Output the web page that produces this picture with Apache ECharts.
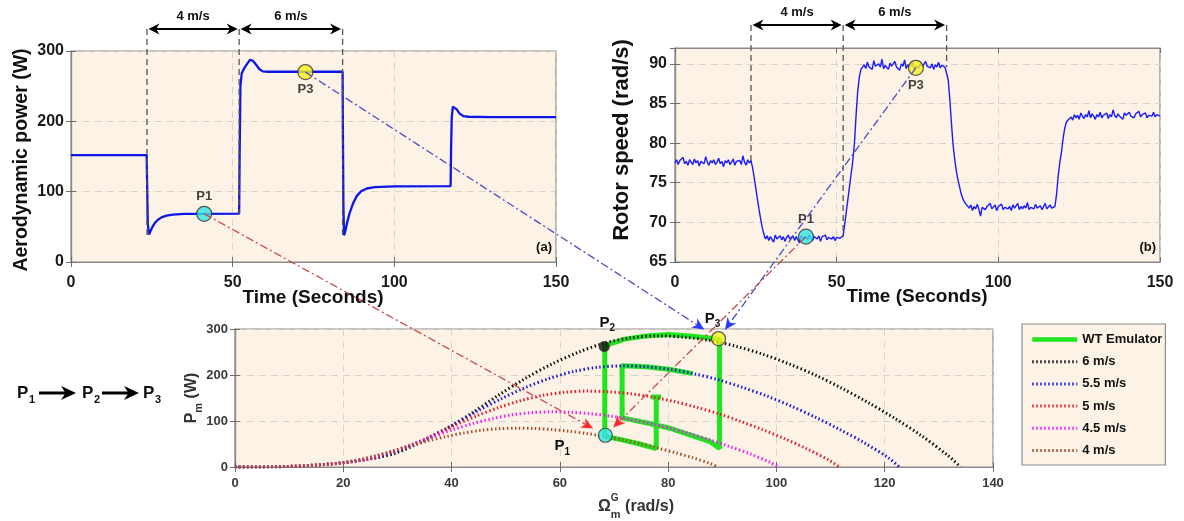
<!DOCTYPE html>
<html>
<head>
<meta charset="utf-8">
<script src="https://cdn.jsdelivr.net/npm/echarts@6/dist/echarts.min.js"></script>
<style>
html,body{margin:0;padding:0;background:#fff;}
#chart{width:1184px;height:521px;}
</style>
</head>
<body>
<div id="chart"></div>
<script>
// (a) aerodynamic power trace, breakpoints
const powerTime = [0, 23.4, 23.55, 23.75, 24.1, 24.6, 25.2, 26, 27, 28, 29.5, 31.5, 35, 40, 52, 52.15, 52.4, 52.8, 53.5, 54.5,
  55.4, 56.3, 57.3, 58.3, 59.3, 61, 84, 84.1, 84.25, 84.45, 84.8, 85.4, 86.2, 87.2, 88.4, 89.8, 91.5, 94, 100, 117.4,
  117.55, 117.75, 118.1, 118.6, 119.3, 120.2, 121.3, 123, 130, 150];
const powerValue = [152, 152, 110, 55, 39, 44, 50, 56, 60.5, 63.5, 66, 67.5, 68.3, 68.5, 68.8, 150, 250, 268, 275, 282,
  287.5, 286, 280, 274, 271, 270.5, 270.5, 180, 80, 38, 43, 56, 70, 83, 94, 101, 104.5, 106.5, 107.5, 107.8,
  160, 205, 221, 222, 217, 211, 207.5, 206.5, 206, 206];

// (b) rotor speed, one value every 0.5 s from 0 to 150 s
const rotorStep = 0.5;
const rotorSpeed = [
  77.5,77.9,77.3,77.8,77.6,78.2,77.4,77.7,77.2,77.9,77.6,77.3,78.0,77.5,77.8,77.1,77.7,77.9,77.4,78.3,
  77.6,77.2,77.8,77.5,77.9,77.3,77.6,78.1,77.4,77.7,77.0,77.8,77.5,77.9,77.3,77.6,78.0,77.2,77.7,77.5,
  77.8,77.3,78.4,77.6,77.2,77.9,77.5,77.8,
  76.9,75.6,74.3,72.9,71.6,70.4,69.3,68.5,
  67.9,68.3,67.7,68.2,68.0,67.5,68.4,67.9,68.1,68.3,67.8,68.2,67.6,68.1,68.4,67.9,68.0,68.3,67.7,68.2,
  68.0,67.4,68.3,68.1,67.9,68.2,67.8,68.4,68.0,67.7,68.2,68.1,67.9,68.3,67.6,68.2,68.0,68.4,67.8,68.1,
  68.3,67.9,68.2,67.7,68.1,68.3,68.0,68.2,
  68.3,69.8,71.4,73.0,74.6,76.2,77.8,80.0,83.5,86.5,88.3,89.3,89.6,
  89.9,89.4,90.2,89.6,89.8,89.3,90.4,89.7,89.5,90.0,89.6,90.6,89.4,89.8,89.9,89.3,90.1,89.7,89.5,90.3,
  89.6,89.8,89.2,90.0,89.7,90.5,89.4,89.9,89.6,89.8,90.2,89.3,89.7,89.9,89.5,90.1,89.6,89.4,90.3,89.7,
  89.8,89.5,90.0,89.3,89.9,89.6,90.2,89.5,89.8,89.7,89.6,
  89.5,88.0,85.5,82.5,79.8,78.0,76.5,75.4,74.5,73.6,73.0,72.6,72.3,72.1,
  71.8,72.2,71.5,72.0,71.7,72.3,71.6,70.8,71.9,72.1,71.6,72.0,71.8,72.4,71.7,71.9,72.2,71.5,72.0,71.8,
  72.3,71.6,71.9,72.1,71.7,72.0,71.5,72.2,71.8,71.9,72.4,71.6,72.0,71.7,72.1,71.8,72.5,71.6,71.9,72.0,
  71.7,72.3,71.8,71.9,72.1,71.6,72.0,72.4,71.7,71.9,72.2,71.8,72.0,
  72.0,73.5,75.8,77.5,78.8,80.5,81.8,82.6,82.9,83.1,
  83.3,82.9,83.6,83.2,83.5,83.0,83.8,83.4,83.1,83.6,83.3,84.1,83.2,83.7,83.4,83.0,83.6,83.3,83.9,83.2,
  83.5,83.4,83.8,83.1,83.6,83.3,84.2,83.5,83.2,83.7,83.4,83.6,83.0,83.8,83.5,83.3,83.9,83.4,83.6,83.2,
  83.7,83.5,84.0,83.3,83.6,83.4,83.8,83.2,83.5,83.7,83.4,83.9,83.3,83.6,83.5,83.4
];

// wind steps marked above (a) and (b)
const stepTimes = [23.5, 52, 84];
const windLabels = ['4 m/s', '6 m/s'];
const stepLowA = [38, 68, 38];
const stepLowB = [77.6, 68.2, 89.6];

// operating points
const pointA1 = [41.2, 68.5], pointA3 = [72.5, 270];
const pointB1 = [40.5, 68.2], pointB3 = [74.5, 89.5];
const pointC1 = [68.4, 69], pointC2 = [68.2, 262], pointC3 = [89.3, 279];

// (c) power curves P_m(Omega) for each wind speed, [rad/s, W]
const curve6 = [[0,0],[9.75,1.1],[19.5,8.6],[24.4,17.1],[29.25,28.5],[34.1,52.7],[39,82.7],[43.9,118.3],[48.75,156.8],[53.6,192.4],[58.5,223.7],[63.4,249.4],[68.25,269.3],[73.1,280.7],[78,285],[82.9,282.2],[87.75,275],[92.6,262.2],[97.5,245.1],[102.4,223.7],[107.25,199.5],[112.1,171],[117,139.7],[121.9,105.5],[126.75,68.4],[131.6,25.7],[134,0]];
const curve55 = [[0,0],[8.94,0.9],[17.9,6.6],[22.3,13.2],[26.8,22],[31.3,40.7],[35.75,63.8],[40.2,91.3],[44.7,121],[49.2,148.5],[53.6,172.7],[58.1,192.5],[62.6,207.9],[67,216.7],[71.5,220],[76,217.8],[80.4,212.3],[84.9,202.4],[89.4,189.2],[93.8,172.7],[98.3,154],[102.8,132],[107.25,107.8],[111.7,81.4],[116.2,52.8],[120.7,19.8],[122.7,0]];
const curve5 = [[0,0],[8.1,0.7],[16.25,5],[20.3,9.9],[24.4,16.5],[28.4,30.5],[32.5,47.9],[36.6,68.5],[40.6,90.8],[44.7,111.4],[48.75,129.5],[52.8,144.4],[56.9,155.9],[60.9,162.5],[65,165],[69.1,163.4],[73.1,159.2],[77.2,151.8],[81.25,141.9],[85.3,129.5],[89.4,115.5],[93.4,99],[97.5,80.9],[101.6,61.1],[105.6,39.6],[109.7,14.9],[111.6,0]];
const curve45 = [[0,0],[7.3,0.5],[14.6,3.6],[18.3,7.2],[21.9,12],[25.6,22.2],[29.25,34.8],[32.9,49.8],[36.6,66],[40.2,81],[43.9,94.2],[47.5,105],[51.2,113.4],[54.8,118.2],[58.5,120],[62.2,118.8],[65.8,115.8],[69.5,110.4],[73.1,103.2],[76.8,94.2],[80.4,84],[84.1,72],[87.75,58.8],[91.4,44.4],[95.1,28.8],[98.7,10.8],[100.4,0]];
const curve4 = [[0,0],[6.5,0.3],[13,2.5],[16.25,5.1],[19.5,8.5],[22.75,15.6],[26,24.5],[29.25,35.1],[32.5,46.5],[35.75,57],[39,66.3],[42.25,73.9],[45.5,79.9],[48.75,83.3],[52,84.5],[55.25,83.7],[58.5,81.5],[61.75,77.7],[65,72.7],[68.25,66.3],[71.5,59.2],[74.75,50.7],[78,41.4],[81.25,31.3],[84.5,20.3],[87.75,7.6],[89.2,0]];

// WT emulator trajectory in the (Omega, P) plane
const emuOmega = [76.9, 78.7, 77.8, 77.8, 74.75, 71.5, 68.3, 68.3, 72, 76, 80, 84, 88, 89.5, 89.5, 87.75, 84, 80.4, 76.8, 73.1, 71.5, 71.5, 76, 80.4, 84.5];
const emuPower = [152, 152, 152, 40, 50, 59, 67, 264, 278, 285, 288, 285, 280, 277, 40, 55, 70, 84, 94, 103, 107, 220, 218, 212, 203];

const FONT = '"Liberation Sans", Arial, Helvetica, sans-serif';
const BG = '#fcf2e6';
const BORDER = '#8a8a8a';
const GRIDLINE = '#dad3c9';

function zip(a, b) { return a.map((v, i) => [v, b[i]]); }

function axisPair(gridIndex, dim, min, max, interval, label) {
  const base = {
    gridIndex: gridIndex, type: 'value', min: min, max: max, interval: interval,
    axisLine: {show: true, lineStyle: {color: BORDER, width: 1.2}},
    axisTick: {show: true, inside: true, length: 5, lineStyle: {color: '#6e6e6e'}}
  };
  const main = Object.assign({}, base, {
    position: dim === 'x' ? 'bottom' : 'left',
    axisLabel: Object.assign({fontFamily: FONT, fontWeight: 'bold', showMaxLabel: max % interval === 0}, label),
    splitLine: {show: true, lineStyle: {color: GRIDLINE, type: [7, 5], width: 1}}
  });
  const other = Object.assign({}, base, {
    position: dim === 'x' ? 'top' : 'right',
    axisLabel: {show: false}, splitLine: {show: false}
  });
  return [main, other];
}

const xAxes = [].concat(
  axisPair(0, 'x', 0, 150, 50, {fontSize: 16, color: '#1a1a1a', margin: 13}),
  axisPair(1, 'x', 0, 150, 50, {fontSize: 16, color: '#1a1a1a', margin: 13}),
  axisPair(2, 'x', 0, 140, 20, {fontSize: 13, color: '#3a3a3a', margin: 10})
);
const yAxes = [].concat(
  axisPair(0, 'y', 0, 300, 100, {fontSize: 16, color: '#1a1a1a', margin: 7}),
  axisPair(1, 'y', 65, 92, 5, {fontSize: 16, color: '#1a1a1a', margin: 8}),
  axisPair(2, 'y', 0, 300, 100, {fontSize: 13, color: '#3a3a3a', margin: 7})
);

const markLabel = {fontFamily: FONT, fontWeight: 'bold', fontSize: 13, color: '#111'};
function marker(value, color, size, pos, txt) {
  return {
    value: value, symbolSize: size,
    itemStyle: {color: color, borderColor: '#333', borderWidth: 1.2},
    label: Object.assign({show: !!txt, position: pos, distance: 3, formatter: txt || ''}, markLabel)
  };
}

function curveSeries(name, data, color) {
  return {
    name: name, type: 'line', xAxisIndex: 4, yAxisIndex: 4, data: data, smooth: 0.3,
    symbol: 'none', z: 3, lineStyle: {color: color, width: 3, type: [1.5, 2.5]}, itemStyle: {color: color}
  };
}

const option = {
  animation: false,
  backgroundColor: '#fff',
  grid: [
    {left: 71, top: 51, width: 485, height: 211, show: true, backgroundColor: BG, borderColor: BORDER, borderWidth: 1.2},
    {left: 675, top: 48, width: 485, height: 214, show: true, backgroundColor: BG, borderColor: BORDER, borderWidth: 1.2},
    {left: 235, top: 329, width: 758, height: 138, show: true, backgroundColor: BG, borderColor: BORDER, borderWidth: 1.2}
  ],
  xAxis: xAxes,
  yAxis: yAxes,
  legend: {
    orient: 'vertical', left: 1022, top: 324,
    itemWidth: 45, itemHeight: 14, itemGap: 9.2,
    padding: [9, 3, 8, 8],
    backgroundColor: BG, borderColor: BORDER, borderWidth: 1.2,
    itemStyle: {opacity: 0},
    lineStyle: {width: 3},
    textStyle: {fontFamily: FONT, fontWeight: 'bold', fontSize: 13, color: '#111'},
    data: [{name: 'WT Emulator', lineStyle: {width: 4.5}}, '6 m/s', '5.5 m/s', '5 m/s', '4.5 m/s', '4 m/s']
  },
  series: [
    {type: 'line', xAxisIndex: 0, yAxisIndex: 0, data: zip(powerTime, powerValue), symbol: 'none',
     lineStyle: {color: '#0c16e8', width: 2.3}, z: 3},
    {type: 'scatter', xAxisIndex: 0, yAxisIndex: 0, z: 5,
     data: [marker(pointA1, '#33e6e6', 15, 'top', 'P1'), marker(pointA3, '#f7f21a', 15, 'bottom', 'P3')]},
    {type: 'line', xAxisIndex: 2, yAxisIndex: 2, data: rotorSpeed.map((v, i) => [i * rotorStep, v]), symbol: 'none',
     lineStyle: {color: '#1a1aff', width: 1.4}, z: 3},
    {type: 'scatter', xAxisIndex: 2, yAxisIndex: 2, z: 5,
     data: [marker(pointB1, '#33e6e6', 15, 'top', 'P1'), marker(pointB3, '#f7f21a', 15, 'bottom', 'P3')]},
    {name: 'WT Emulator', type: 'line', xAxisIndex: 4, yAxisIndex: 4, data: zip(emuOmega, emuPower), symbol: 'none',
     z: 2, lineStyle: {color: '#1fe51f', width: 5}, itemStyle: {color: '#1fe51f'}},
    curveSeries('6 m/s', curve6, '#111111'),
    curveSeries('5.5 m/s', curve55, '#1a1ad8'),
    curveSeries('5 m/s', curve5, '#e0202a'),
    curveSeries('4.5 m/s', curve45, '#ee22ee'),
    curveSeries('4 m/s', curve4, '#a0522d'),
    {type: 'scatter', xAxisIndex: 4, yAxisIndex: 4, z: 6,
     data: [marker(pointC1, '#33e6e6', 14), marker(pointC2, '#111', 10), marker(pointC3, '#f7f21a', 14)]}
  ]
};

const chart = echarts.init(document.getElementById('chart'));
chart.setOption(option);

const pa = p => chart.convertToPixel({xAxisIndex: 0, yAxisIndex: 0}, p);
const pb = p => chart.convertToPixel({xAxisIndex: 2, yAxisIndex: 2}, p);
const pc = p => chart.convertToPixel({xAxisIndex: 4, yAxisIndex: 4}, p);

const measure = document.createElement('canvas').getContext('2d');
function tw(s, size) { measure.font = 'bold ' + size + 'px ' + FONT; return measure.measureText(s).width; }

const g = [];
function line(x1, y1, x2, y2, stroke, w, dash) {
  g.push({type: 'line', z: 50, silent: true, shape: {x1: x1, y1: y1, x2: x2, y2: y2},
    style: {stroke: stroke, lineWidth: w, lineDash: dash || null}});
}
function head(tx, ty, ux, uy, len, hw, fill) {
  const bx = tx - ux * len, by = ty - uy * len;
  const nx = tx - ux * len * 0.7, ny = ty - uy * len * 0.7;
  g.push({type: 'polygon', z: 51, silent: true,
    shape: {points: [[tx, ty], [bx - uy * hw, by + ux * hw], [nx, ny], [bx + uy * hw, by - ux * hw]]},
    style: {fill: fill}});
}
function text(x, y, s, size, opt) {
  g.push({type: 'text', z: 52, silent: true, x: x, y: y, rotation: (opt && opt.rotation) || 0,
    style: {text: s, fontFamily: FONT, fontWeight: 'bold', fontSize: size,
      fill: (opt && opt.color) || '#111', align: (opt && opt.align) || 'center', verticalAlign: 'middle'}});
}
// text made of pieces: [string, size, dy, noAdvance]
function pieces(x, y, parts, color, rotation) {
  let total = 0;
  parts.forEach(p => { if (!p[3]) total += tw(p[0], p[1]); });
  let cx = -total / 2;
  const children = parts.map(p => {
    const el = {type: 'text', x: cx, y: p[2],
      style: {text: p[0], fontFamily: FONT, fontWeight: 'bold', fontSize: p[1], fill: color, align: 'left', verticalAlign: 'middle'}};
    if (!p[3]) cx += tw(p[0], p[1]);
    return el;
  });
  g.push({type: 'group', z: 52, silent: true, x: x, y: y, rotation: rotation || 0, children: children});
}

// wind step markers above (a) and (b)
function windArrows(px, low, yTop) {
  const xs = stepTimes.map((t, i) => {
    const p = px([t, low[i]]);
    line(p[0], yTop, p[0], p[1], '#555', 1.3, [6, 4]);
    return p[0];
  });
  for (let i = 0; i < windLabels.length; i++) {
    const a = xs[i] + 1.5, b = xs[i + 1] - 1.5;
    line(a + 6, yTop, b - 6, yTop, '#000', 2);
    head(b, yTop, 1, 0, 11, 5.5, '#000');
    head(a, yTop, -1, 0, 11, 5.5, '#000');
    text((a + b) / 2, yTop - 13, windLabels[i], 13);
  }
}
windArrows(pa, stepLowA, pa([0, 300])[1] - 22);
windArrows(pb, stepLowB, pb([0, 92])[1] - 23);

// connectors from the time plots to the P-Omega plane
function connector(S, E, color, headColor, d) {
  const dx = E[0] - S[0], dy = E[1] - S[1], L = Math.hypot(dx, dy);
  const ux = dx / L, uy = dy / L;
  const tx = E[0] - ux * d, ty = E[1] - uy * d;
  line(S[0], S[1], tx - ux * 6, ty - uy * 6, color, 1.3, [8, 3, 2, 3]);
  head(tx, ty, ux, uy, 12, 5.5, headColor);
}
const c1 = pc(pointC1), c2 = pc(pointC2), c3 = pc(pointC3);
connector(pa(pointA1), c1, '#cc4a44', '#ff2a2a', 14);
connector(pa(pointA3), c3, '#4b4bc4', '#2a3aff', 17);
connector(pb(pointB1), c1, '#cc4a44', '#ff2a2a', 11);
connector(pb(pointB3), c3, '#4b4bc4', '#2a3aff', 11);

// point labels in the P-Omega plane
pieces(c2[0] + 3, c2[1] - 24, [['P', 15, 0], ['2', 10, 6]], '#111');
pieces(c3[0] - 6, c3[1] - 20, [['P', 15, 0], ['3', 10, 6]], '#111');
pieces(c1[0] - 43, c1[1] + 11, [['P', 15, 0], ['1', 10, 6]], '#111');

// panel tags
const ra = pa([150, 0]), rb = pb([150, 65]);
text(ra[0] - 4, ra[1] - 15, '(a)', 13, {align: 'right'});
text(rb[0] - 4, rb[1] - 15, '(b)', 13, {align: 'right'});

// axis titles
text(22, 160, 'Aerodynamic power (W)', 19.5, {rotation: Math.PI / 2});
text(313, 298, 'Time (Seconds)', 19);
text(622, 140, 'Rotor speed (rad/s)', 22, {rotation: Math.PI / 2});
text(917, 297, 'Time (Seconds)', 19);
pieces(192, 398, [['P', 16, 0], ['m', 11, 7], [' (W)', 16, 0]], '#333', Math.PI / 2);
pieces(636, 507, [['\u03a9', 16, 0], ['G', 10, -9, true], ['m', 11, 8], [' (rad/s)', 16, 0]], '#333');

// P1 -> P2 -> P3 sequence
const seqY = 393;
[[17, '1'], [82, '2'], [143, '3']].forEach(p => {
  text(p[0], seqY, 'P', 17, {align: 'left'});
  text(p[0] + 12, seqY + 7, p[1], 11, {align: 'left'});
});
[[39, 76], [102, 139]].forEach(a => {
  line(a[0], seqY, a[1] - 8, seqY, '#000', 3);
  head(a[1], seqY, 1, 0, 15, 7, '#000');
});

chart.setOption({graphic: {elements: g}});
</script>
</body>
</html>
